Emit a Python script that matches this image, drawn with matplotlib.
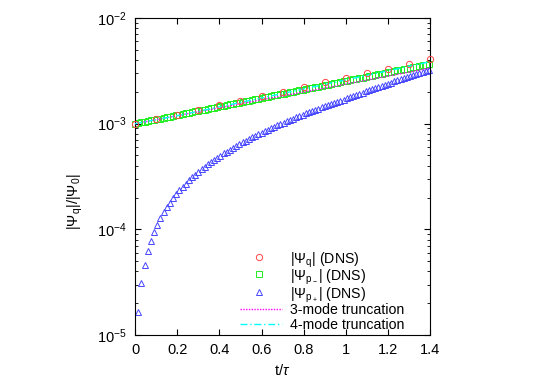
import math
import matplotlib
matplotlib.use("Agg")
import matplotlib.pyplot as plt
from matplotlib.ticker import FuncFormatter, LogLocator, NullFormatter

plt.rcParams['font.family'] = ['Liberation Sans', 'DejaVu Sans']
plt.rcParams['mathtext.fontset'] = 'custom'
plt.rcParams['mathtext.rm'] = 'Liberation Sans'
plt.rcParams['mathtext.it'] = 'Liberation Sans:italic'
plt.rcParams['mathtext.bf'] = 'Liberation Sans:bold'

# |Psi_q| (DNS), every 0.1
t_q = [0.0, 0.1, 0.2, 0.3, 0.4, 0.5, 0.6, 0.7, 0.8, 0.9, 1.0, 1.1, 1.2, 1.3, 1.4]
psi_q = [1.00e-3, 1.10e-3, 1.22e-3, 1.35e-3, 1.49e-3, 1.65e-3, 1.82e-3, 2.01e-3,
         2.22e-3, 2.46e-3, 2.72e-3, 3.00e-3, 3.32e-3, 3.67e-3, 4.06e-3]

# dense DNS output times
t_dns = [0.015, 0.03, 0.045, 0.06, 0.075, 0.09, 0.105, 0.12, 0.135, 0.15,
         0.165, 0.18, 0.195, 0.21, 0.225, 0.24, 0.255, 0.27, 0.285, 0.3,
         0.315, 0.33, 0.345, 0.36, 0.375, 0.39, 0.405, 0.42, 0.435, 0.45,
         0.465, 0.48, 0.495, 0.51, 0.525, 0.54, 0.555, 0.57, 0.585, 0.6,
         0.615, 0.63, 0.645, 0.66, 0.675, 0.69, 0.705, 0.72, 0.735, 0.75,
         0.765, 0.78, 0.795, 0.81, 0.825, 0.84, 0.855, 0.87, 0.885, 0.9,
         0.915, 0.93, 0.945, 0.96, 0.975, 0.99, 1.005, 1.02, 1.035, 1.05,
         1.065, 1.08, 1.095, 1.11, 1.125, 1.14, 1.155, 1.17, 1.185, 1.2,
         1.215, 1.23, 1.245, 1.26, 1.275, 1.29, 1.305, 1.32, 1.335, 1.35,
         1.365, 1.38, 1.395]

# |Psi_p-| (DNS), in units of 1e-3
psi_pm = [1.014, 1.028, 1.043, 1.057, 1.072, 1.087, 1.103, 1.118, 1.134, 1.150,
          1.166, 1.182, 1.199, 1.216, 1.233, 1.250, 1.268, 1.286, 1.304, 1.322,
          1.341, 1.359, 1.378, 1.398, 1.417, 1.437, 1.458, 1.478, 1.499, 1.520,
          1.541, 1.563, 1.585, 1.607, 1.630, 1.653, 1.676, 1.699, 1.723, 1.748,
          1.772, 1.797, 1.822, 1.848, 1.874, 1.900, 1.927, 1.954, 1.981, 2.009,
          2.037, 2.066, 2.095, 2.125, 2.154, 2.185, 2.215, 2.246, 2.278, 2.310,
          2.342, 2.375, 2.409, 2.443, 2.477, 2.512, 2.547, 2.583, 2.619, 2.656,
          2.693, 2.731, 2.769, 2.808, 2.848, 2.888, 2.928, 2.970, 3.011, 3.054,
          3.096, 3.140, 3.184, 3.229, 3.274, 3.320, 3.367, 3.414, 3.462, 3.511,
          3.560, 3.610, 3.661]

# |Psi_p+| (DNS), in units of 1e-3
psi_pp = [0.0166, 0.0313, 0.0463, 0.0618, 0.0779, 0.0942, 0.111, 0.128, 0.145, 0.162,
          0.179, 0.197, 0.215, 0.234, 0.252, 0.271, 0.291, 0.310, 0.330, 0.350,
          0.370, 0.391, 0.412, 0.433, 0.455, 0.477, 0.499, 0.522, 0.545, 0.568,
          0.592, 0.616, 0.641, 0.665, 0.691, 0.716, 0.742, 0.768, 0.795, 0.822,
          0.850, 0.878, 0.906, 0.935, 0.964, 0.994, 1.024, 1.054, 1.086, 1.117,
          1.149, 1.182, 1.215, 1.248, 1.282, 1.316, 1.351, 1.387, 1.423, 1.460,
          1.497, 1.535, 1.573, 1.612, 1.651, 1.691, 1.733, 1.778, 1.824, 1.872,
          1.920, 1.968, 2.017, 2.068, 2.119, 2.172, 2.224, 2.279, 2.335, 2.390,
          2.446, 2.505, 2.564, 2.623, 2.685, 2.748, 2.812, 2.875, 2.940, 3.007,
          3.076, 3.145, 3.214]

# truncated models
t_model = [0.0, 0.1, 0.2, 0.3, 0.4, 0.5, 0.6, 0.7, 0.8, 0.9, 1.0, 1.1, 1.2, 1.3, 1.4]
mode3 = [1.00e-3, 1.09e-3, 1.19e-3, 1.30e-3, 1.41e-3, 1.54e-3, 1.68e-3, 1.83e-3,
         1.99e-3, 2.17e-3, 2.37e-3, 2.58e-3, 2.82e-3, 3.07e-3, 3.35e-3]
mode4 = [1.00e-3, 1.09e-3, 1.19e-3, 1.31e-3, 1.44e-3, 1.59e-3, 1.75e-3, 1.93e-3,
         2.13e-3, 2.35e-3, 2.59e-3, 2.86e-3, 3.16e-3, 3.48e-3, 3.85e-3]

# legend entries (top to bottom)
legend_labels = [r'$|\Psi_{\mathrm{q}}|$ (DNS)', r'$|\Psi_{\mathrm{p}_-}|$ (DNS)',
                 r'$|\Psi_{\mathrm{p}_+}|$ (DNS)', '3-mode truncation', '4-mode truncation']

red, green, blue = '#ff4444', '#22ee22', '#4444ff'
magenta, cyan = '#ff00ff', '#00ffff'
ls3 = (0, (1, 1))
ls4 = (0, (5, 2, 1, 2))

fig = plt.figure(figsize=(5.45, 3.82), dpi=100)
ax = fig.add_axes([0.248, 0.123, 0.541, 0.830])

ax.plot(t_model, mode3, linestyle=ls3, color=magenta, linewidth=1.0, zorder=3)
ax.plot(t_model, mode4, linestyle=ls4, color=cyan, linewidth=1.0, zorder=3)

sq = dict(linestyle='none', marker='s', markersize=4.5, markerfacecolor='none',
          markeredgecolor=green, markeredgewidth=0.7, clip_on=False)
tri = dict(linestyle='none', marker='^', markersize=4, markerfacecolor='none',
           markeredgecolor=blue, markeredgewidth=0.7, clip_on=False)
circ = dict(linestyle='none', marker='o', markersize=4.5, markerfacecolor='none',
            markeredgecolor=red, markeredgewidth=0.7, clip_on=False)

ax.plot([0.0] + t_dns, [1.0e-3] + [v * 1e-3 for v in psi_pm], zorder=2, **sq)
ax.plot(t_dns, [v * 1e-3 for v in psi_pp], zorder=2, **tri)
ax.plot(t_q, psi_q, zorder=4, **circ)

ax.set_yscale('log')
ax.set_xlim(0, 1.4)
ax.set_ylim(1e-5, 1e-2)

ax.set_xticks([0, 0.2, 0.4, 0.6, 0.8, 1.0, 1.2, 1.4])
ax.xaxis.set_major_formatter(FuncFormatter(lambda v, p: '%g' % v))
ax.yaxis.set_major_locator(LogLocator(base=10, numticks=10))
ax.yaxis.set_minor_locator(LogLocator(base=10, subs=range(2, 10), numticks=20))
ax.yaxis.set_minor_formatter(NullFormatter())
ax.yaxis.set_major_formatter(FuncFormatter(lambda v, p: r'$10^{%d}$' % round(math.log10(v))))

ax.tick_params(which='both', direction='in', top=True, right=True, labelsize=10.5, pad=6)
ax.tick_params(which='major', length=4.5, width=0.8)
ax.tick_params(which='minor', length=2.5, width=0.6)
for s in ax.spines.values():
    s.set_linewidth(0.8)

ax.set_xlabel(r't/$\tau$', fontsize=10.5, labelpad=4)
ax.set_ylabel(r'$|\Psi_{\mathrm{q}}|/|\Psi_0|$', fontsize=10.5)
ax.yaxis.set_label_coords(-0.17, 0.42)

# hand-placed key, gnuplot style (no frame)
rows = [0.247, 0.191, 0.135, 0.083, 0.035]
tr = ax.transAxes
ax.plot([0.420], [rows[0]], transform=tr, **circ)
ax.plot([0.420], [rows[1]], transform=tr, **sq)
ax.plot([0.420], [rows[2]], transform=tr, **tri)
ax.plot([0.356, 0.498], [rows[3]] * 2, transform=tr, linestyle=ls3, color=magenta,
        linewidth=1.0, clip_on=False)
ax.plot([0.356, 0.498], [rows[4]] * 2, transform=tr, linestyle=ls4, color=cyan,
        linewidth=1.0, clip_on=False)
for yy, lab in zip(rows, legend_labels):
    ax.text(0.525, yy, lab, transform=tr, ha='left', va='center_baseline', fontsize=10.2)

fig.savefig('out.png', dpi=100)
